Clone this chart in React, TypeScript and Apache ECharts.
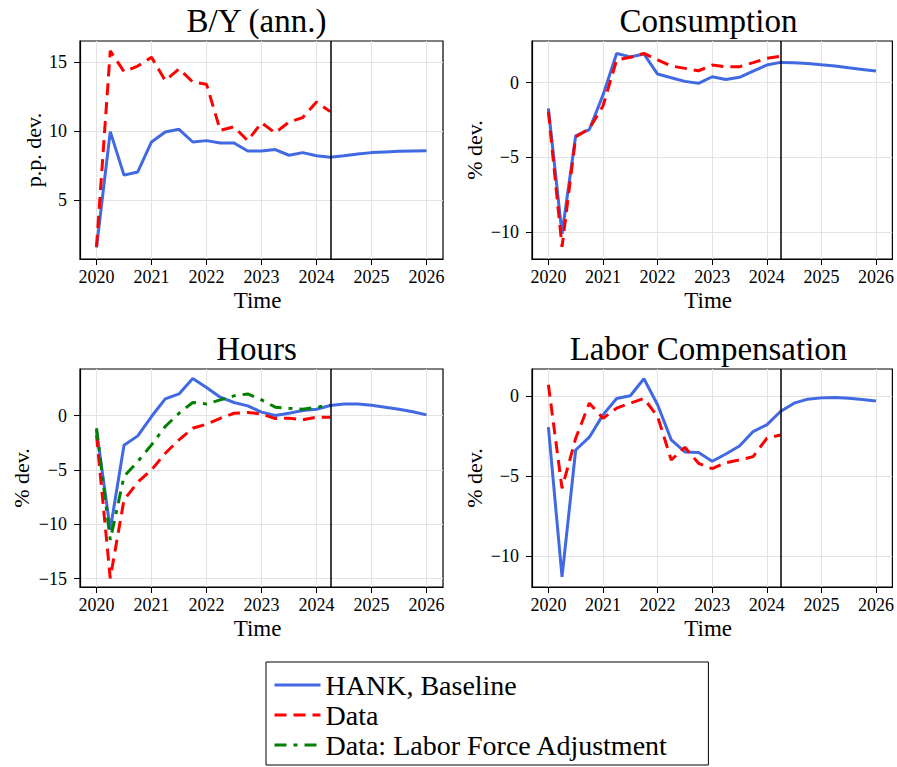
import React, { useEffect, useRef } from "react";
import * as echarts from "echarts";

// Quarterly dates (decimal years)
const quarters = [
  2020, 2020.25, 2020.5, 2020.75, 2021, 2021.25, 2021.5, 2021.75, 2022, 2022.25,
  2022.5, 2022.75, 2023, 2023.25, 2023.5, 2023.75, 2024, 2024.25, 2024.5, 2024.75,
  2025, 2025.25, 2025.5, 2025.75, 2026,
];

// Last observed data quarter
const dataCutoff = 2024.25;

const xTicks = [2020, 2021, 2022, 2023, 2024, 2025, 2026];

// B/Y (ann.), p.p. dev.
const byModel = [1.55, 9.95, 6.8, 7.03, 9.2, 9.93, 10.12, 9.2, 9.3, 9.13, 9.13, 8.55, 8.55, 8.65, 8.24, 8.43, 8.2, 8.1, 8.2, 8.33, 8.43, 8.48, 8.53, 8.55, 8.57];
const byData = [1.6, 15.8, 14.3, 14.7, 15.35, 13.65, 14.5, 13.55, 13.38, 10.05, 10.3, 9.3, 10.6, 9.86, 10.65, 10.97, 12.1, 11.4];
const byTicks = [5, 10, 15];

// Consumption, % dev.
const consModel = [-1.72, -10.1, -3.55, -3.13, -0.83, 1.96, 1.72, 1.92, 0.58, 0.33, 0.09, -0.04, 0.4, 0.22, 0.36, 0.78, 1.18, 1.36, 1.34, 1.29, 1.2, 1.12, 1.0, 0.89, 0.78];
const consData = [-1.94, -10.98, -3.62, -3.06, -1.56, 1.52, 1.7, 1.96, 1.52, 1.12, 0.96, 0.8, 1.18, 1.07, 1.07, 1.34, 1.63, 1.76];
const consTicks = [-10, -5, 0];

// Hours, % dev.
const hoursModel = [-1.32, -10.5, -2.73, -1.87, -0.09, 1.53, 1.99, 3.4, 2.58, 1.69, 1.2, 0.89, 0.31, 0.0, 0.21, 0.46, 0.58, 0.92, 1.07, 1.05, 0.95, 0.77, 0.58, 0.34, 0.06];
const hoursData = [-1.8, -14.97, -7.76, -6.13, -5.0, -3.47, -2.24, -1.17, -0.8, -0.25, 0.21, 0.28, 0.15, -0.28, -0.25, -0.4, -0.15, -0.15];
const hoursDataLF = [-1.17, -11.44, -5.61, -4.23, -2.7, -1.01, 0.21, 1.2, 1.07, 1.44, 1.81, 1.99, 1.44, 0.77, 0.67, 0.58, 0.77, 0.95];
const hoursTicks = [-15, -10, -5, 0];

// Labor Compensation, % dev.
const compModel = [-1.96, -11.29, -3.38, -2.58, -1.19, -0.17, 0.0, 1.06, -0.56, -2.75, -3.5, -3.54, -4.08, -3.63, -3.13, -2.23, -1.81, -0.98, -0.46, -0.21, -0.13, -0.1, -0.15, -0.23, -0.33];
const compData = [0.69, -5.77, -2.65, -0.46, -1.4, -0.77, -0.46, -0.17, -1.29, -4.0, -3.21, -4.21, -4.54, -4.17, -4.0, -3.79, -2.65, -2.44];
const compTicks = [-10, -5, 0];

const NAME_MODEL = "HANK, Baseline";
const NAME_DATA = "Data";
const NAME_DATA_LF = "Data: Labor Force Adjustment";

const FONT = '"Liberation Serif", "Times New Roman", serif';
const BLUE = "#4169e1";
const RED = "#ff0000";
const GREEN = "#008000";

type Panel = {
  title: string;
  ylabel: string;
  yMin: number;
  yMax: number;
  yTicks: number[];
  nameGap: number;
  model: number[];
  data: number[];
  dataLF?: number[];
  left: number;
  top: number;
};

const PLOT_W = 363;
const PLOT_H = 218;

const panels: Panel[] = [
  { title: "B/Y (ann.)", ylabel: "p.p. dev.", yMin: 0.72, yMax: 16.52, yTicks: byTicks, nameGap: 36, model: byModel, data: byData, left: 80, top: 41 },
  { title: "Consumption", ylabel: "% dev.", yMin: -11.79, yMax: 2.79, yTicks: consTicks, nameGap: 47, model: consModel, data: consData, left: 532, top: 41 },
  { title: "Hours", ylabel: "% dev.", yMin: -15.77, yMax: 4.28, yTicks: hoursTicks, nameGap: 48, model: hoursModel, data: hoursData, dataLF: hoursDataLF, left: 80, top: 369 },
  { title: "Labor Compensation", ylabel: "% dev.", yMin: -11.92, yMax: 1.67, yTicks: compTicks, nameGap: 47, model: compModel, data: compData, left: 532, top: 369 },
];

const fmtNum = (v: number) => (v < 0 ? "\u2212" + Math.abs(v) : String(v));
const pairs = (vals: number[]) => vals.map((v, k) => [quarters[k], v]);

function buildOption() {
  const grid = panels.map((p) => ({
    left: p.left,
    top: p.top,
    width: PLOT_W,
    height: PLOT_H,
    show: true,
    borderColor: "#000",
    borderWidth: 1.2,
    backgroundColor: "transparent",
  }));

  const xAxis = panels.map((p, i) => ({
    type: "value",
    gridIndex: i,
    min: 2019.7,
    max: 2026.3,
    minInterval: 1,
    maxInterval: 1,
    splitNumber: 6,
    axisLine: { show: true, onZero: false, lineStyle: { color: "#000", width: 1.2 } },
    axisTick: { show: true, length: 6, inside: false, customValues: xTicks, lineStyle: { color: "#000", width: 1 } },
    axisLabel: { customValues: xTicks, margin: 9, fontSize: 18, fontFamily: FONT, color: "#000", formatter: (v: number) => String(v) },
    splitLine: { show: true, lineStyle: { color: "#e3e3e3", width: 1 } },
    name: "Time",
    nameLocation: "middle",
    nameGap: 30,
    nameTextStyle: { fontSize: 23, fontFamily: FONT, color: "#000", padding: [0, 8, 0, 0] },
  }));

  const yAxis = panels.map((p, i) => ({
    type: "value",
    gridIndex: i,
    min: p.yMin,
    max: p.yMax,
    minInterval: 5,
    maxInterval: 5,
    splitNumber: 4,
    axisLine: { show: true, onZero: false, lineStyle: { color: "#000", width: 1.2 } },
    axisTick: { show: true, length: 6, inside: false, customValues: p.yTicks, lineStyle: { color: "#000", width: 1 } },
    axisLabel: { customValues: p.yTicks, margin: 13, fontSize: 18, fontFamily: FONT, color: "#000", formatter: fmtNum },
    splitLine: { show: true, lineStyle: { color: "#e3e3e3", width: 1 } },
    name: p.ylabel,
    nameLocation: "middle",
    nameRotate: 90,
    nameGap: p.nameGap,
    nameTextStyle: { fontSize: 22, fontFamily: FONT, color: "#000" },
  }));

  const series: any[] = [];
  panels.forEach((p, i) => {
    series.push({
      name: NAME_MODEL,
      type: "line",
      xAxisIndex: i,
      yAxisIndex: i,
      data: pairs(p.model),
      symbol: "none",
      showSymbol: false,
      lineStyle: { color: BLUE, width: 3 },
      itemStyle: { color: BLUE },
      z: 2,
      markLine: {
        silent: true,
        symbol: ["none", "none"],
        label: { show: false },
        lineStyle: { color: "#000", width: 1.5, type: "solid" },
        data: [{ xAxis: dataCutoff }],
      },
    });
    series.push({
      name: NAME_DATA,
      type: "line",
      xAxisIndex: i,
      yAxisIndex: i,
      data: pairs(p.data),
      symbol: "none",
      showSymbol: false,
      lineStyle: { color: RED, width: 3, type: [12, 7] },
      itemStyle: { color: RED },
      z: 3,
    });
    if (p.dataLF) {
      series.push({
        name: NAME_DATA_LF,
        type: "line",
        xAxisIndex: i,
        yAxisIndex: i,
        data: pairs(p.dataLF),
        symbol: "none",
        showSymbol: false,
        lineStyle: { color: GREEN, width: 3, type: [12, 7, 4, 7] },
        itemStyle: { color: GREEN },
        z: 4,
      });
    }
  });

  const graphic = panels.map((p) => ({
    type: "text",
    x: p.left + PLOT_W / 2 - 5,
    y: p.top - 4,
    silent: true,
    style: {
      text: p.title,
      fontSize: 33,
      fontFamily: FONT,
      fill: "#000",
      align: "center",
      verticalAlign: "bottom",
    },
  }));

  return {
    animation: false,
    backgroundColor: "#fff",
    grid,
    xAxis,
    yAxis,
    series,
    graphic,
    legend: {
      orient: "vertical",
      left: 266,
      top: 662,
      height: 100,
      data: [NAME_MODEL, NAME_DATA, NAME_DATA_LF],
      itemWidth: 46,
      itemHeight: 14,
      itemGap: 2,
      padding: [9, 40, 6, 7],
      borderColor: "#000",
      borderWidth: 1,
      borderRadius: 0,
      backgroundColor: "#fff",
      selectedMode: false,
      itemStyle: { opacity: 0 },
      lineStyle: { width: 3 },
      textStyle: { fontSize: 28, lineHeight: 28, fontFamily: FONT, color: "#000" },
    },
  };
}

export default function App() {
  const ref = useRef<HTMLDivElement>(null);

  useEffect(() => {
    document.body.style.margin = "0";
    if (!ref.current) return;
    const chart = echarts.init(ref.current, null, { renderer: "svg" });
    chart.setOption(buildOption() as any);
    return () => chart.dispose();
  }, []);

  return <div ref={ref} style={{ width: 897, height: 767, overflow: "hidden" }} />;
}
